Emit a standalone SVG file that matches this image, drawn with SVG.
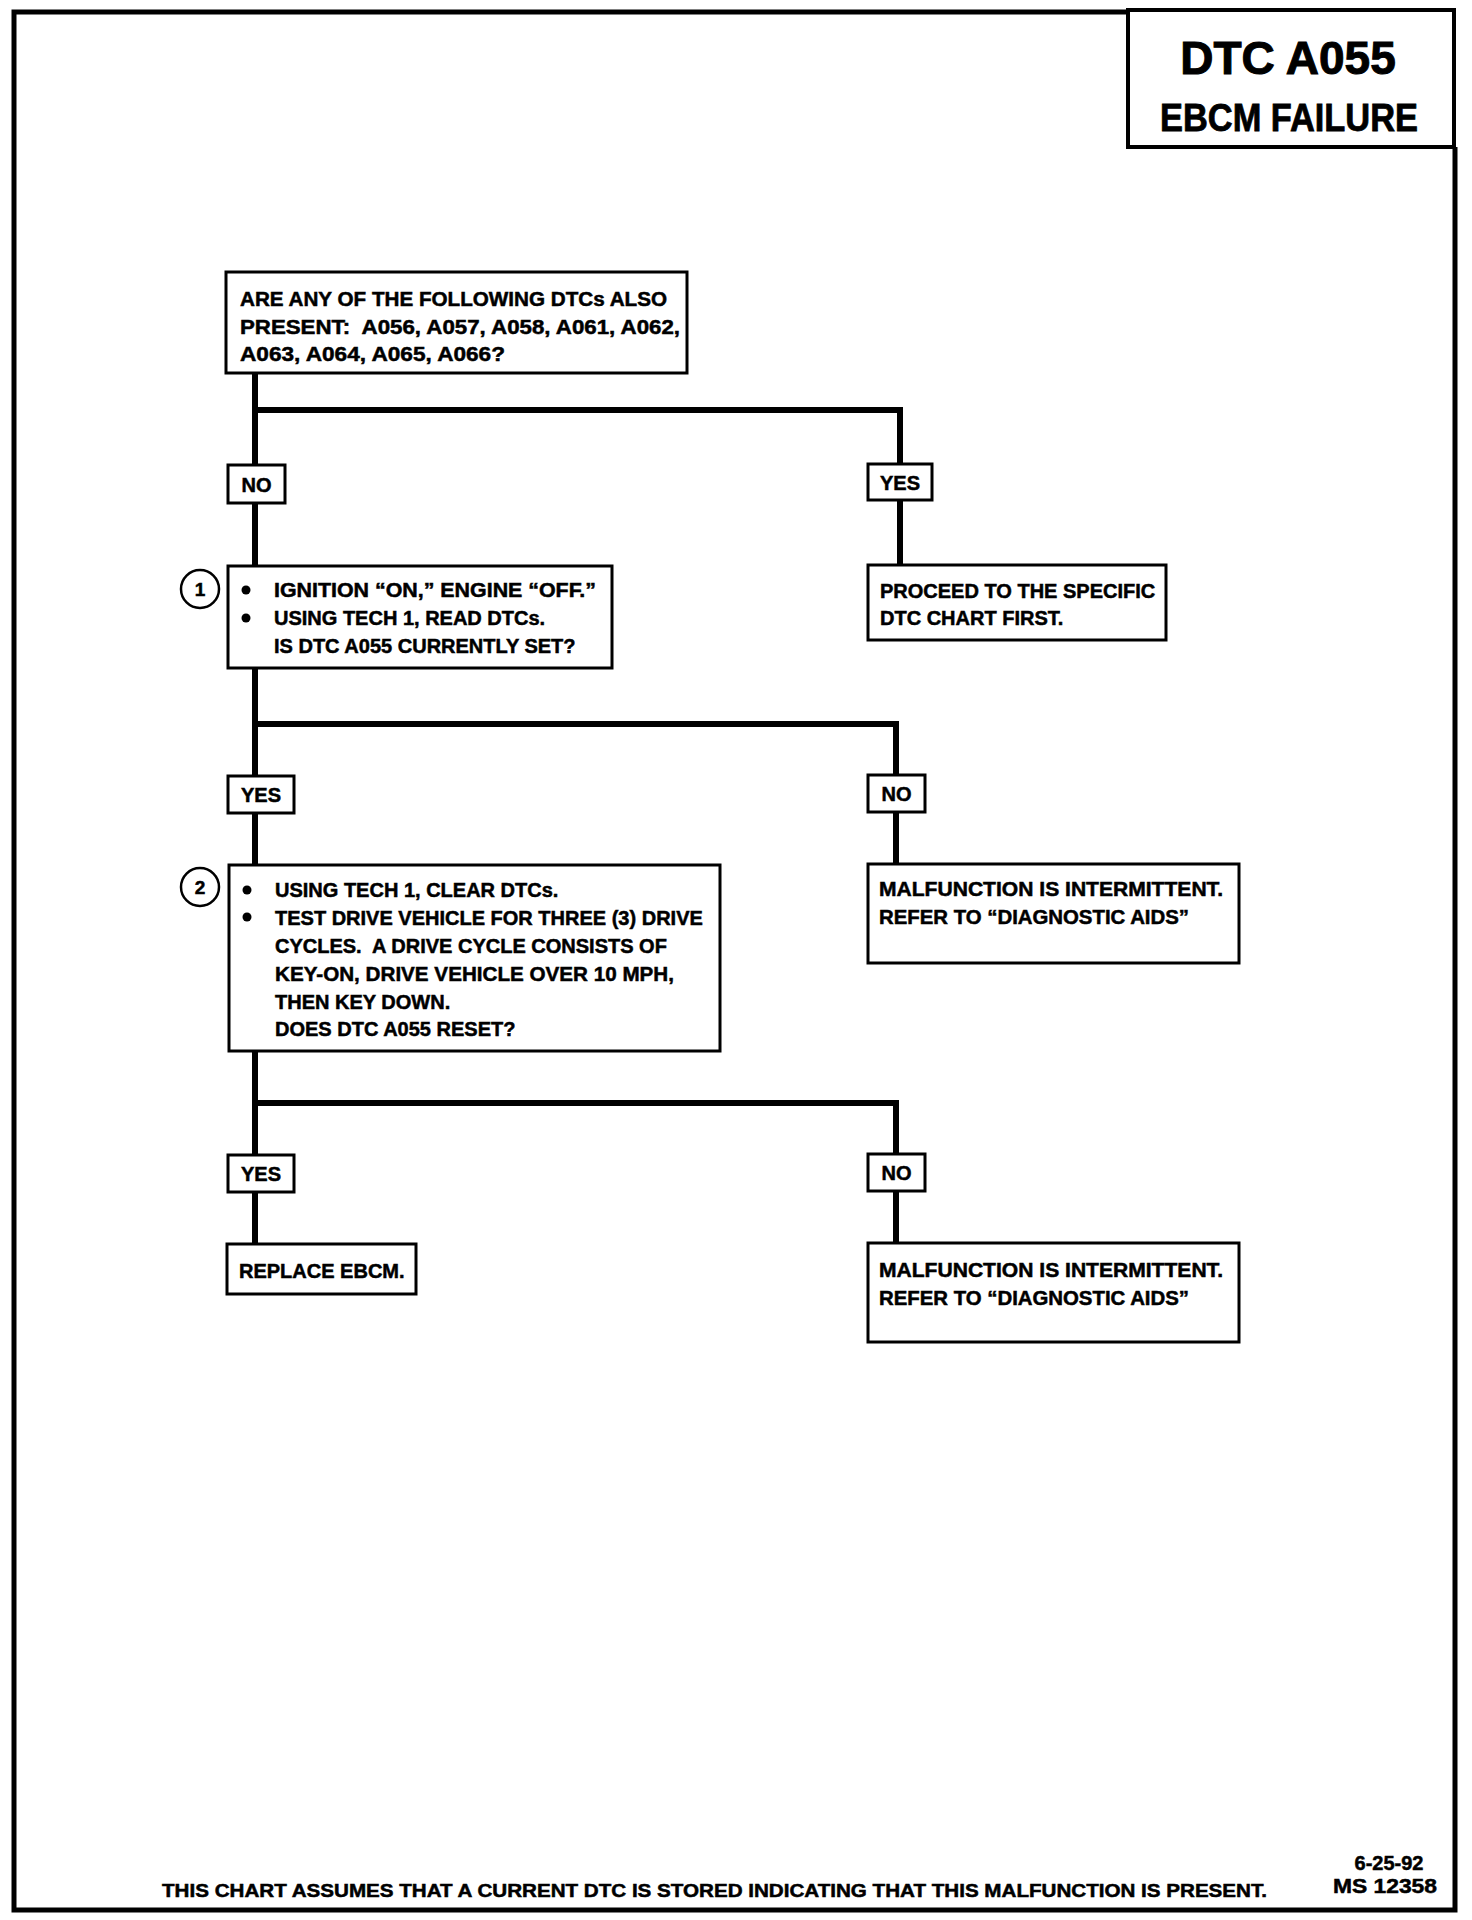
<svg xmlns="http://www.w3.org/2000/svg" width="1472" height="1920" viewBox="0 0 1472 1920">
<style>
.t{font-family:"Liberation Sans",Arial,sans-serif;font-weight:bold;font-size:20px;fill:#000;stroke:#000;stroke-width:0.5}
.lt{font-family:"Liberation Sans",Arial,sans-serif;font-weight:bold;font-size:20px;fill:#000;stroke:#000;stroke-width:0.5;text-anchor:middle}
.box{fill:#fff;stroke:#000;stroke-width:3}
.lbl{fill:#fff;stroke:#000;stroke-width:3}
.conn{fill:none;stroke:#000;stroke-width:6;stroke-linejoin:miter;stroke-linecap:butt}
.circ{fill:#fff;stroke:#000;stroke-width:2.5}
</style>
<rect width="1472" height="1920" fill="#fff"/>
<g id="page">
<path d="M1128 12 H14 V1910 H1455 V147" fill="none" stroke="#000" stroke-width="5"/>
</g>
<g id="title">
<rect x="1128" y="10" width="326" height="137" fill="#fff" stroke="#000" stroke-width="4"/>
<text x="1288" y="74" class="lt" style="font-size:46px;stroke-width:1">DTC A055</text>
<text x="1289" y="131" class="lt" style="font-size:38px;stroke-width:0.8" textLength="258" lengthAdjust="spacingAndGlyphs">EBCM FAILURE</text>
</g>
<g id="connectors">
<path class="conn" d="M255 373 V567"/>
<path class="conn" d="M255 410 H900 V565"/>
<path class="conn" d="M255 669 V865"/>
<path class="conn" d="M255 724 H896 V864"/>
<path class="conn" d="M255 1051 V1245"/>
<path class="conn" d="M255 1103 H896 V1243"/>
</g>
<g id="q1">
<rect class="box" x="226" y="272" width="461" height="101"/>
<text class="t" x="240" y="306" textLength="427" lengthAdjust="spacingAndGlyphs">ARE ANY OF THE FOLLOWING DTCs ALSO</text>
<text class="t" x="240" y="334" textLength="440" lengthAdjust="spacingAndGlyphs">PRESENT:&#160; A056, A057, A058, A061, A062,</text>
<text class="t" x="240" y="361" textLength="265" lengthAdjust="spacingAndGlyphs">A063, A064, A065, A066?</text>
</g>
<g id="lbl-no-1">
<rect class="lbl" x="228" y="465" width="57" height="38"/>
<text class="lt" x="256.5" y="491.5">NO</text>
</g>
<g id="lbl-yes-1">
<rect class="lbl" x="868" y="464" width="64" height="36"/>
<text class="lt" x="900" y="489.5">YES</text>
</g>
<g id="proceed">
<rect class="box" x="868" y="565" width="298" height="75"/>
<text class="t" x="880" y="598">PROCEED TO THE SPECIFIC</text>
<text class="t" x="880" y="625">DTC CHART FIRST.</text>
</g>
<g id="step1">
<circle class="circ" cx="200" cy="589" r="19"/>
<text class="lt" x="200" y="596" style="font-size:19px">1</text>
<rect class="box" x="228" y="566" width="384" height="102"/>
<circle cx="246" cy="590" r="4.5"/>
<circle cx="246" cy="618" r="4.5"/>
<text class="t" x="274" y="597" textLength="322" lengthAdjust="spacingAndGlyphs">IGNITION “ON,” ENGINE “OFF.”</text>
<text class="t" x="274" y="625">USING TECH 1, READ DTCs.</text>
<text class="t" x="274" y="653">IS DTC A055 CURRENTLY SET?</text>
</g>
<g id="lbl-yes-2">
<rect class="lbl" x="228" y="776" width="66" height="37"/>
<text class="lt" x="261" y="802">YES</text>
</g>
<g id="lbl-no-2">
<rect class="lbl" x="868" y="775" width="57" height="37"/>
<text class="lt" x="896.5" y="801">NO</text>
</g>
<g id="malf1">
<rect class="box" x="868" y="864" width="371" height="99"/>
<text class="t" x="879" y="896" textLength="344" lengthAdjust="spacingAndGlyphs">MALFUNCTION IS INTERMITTENT.</text>
<text class="t" x="879" y="924" textLength="310" lengthAdjust="spacingAndGlyphs">REFER TO “DIAGNOSTIC AIDS”</text>
</g>
<g id="step2">
<circle class="circ" cx="200" cy="887" r="19"/>
<text class="lt" x="200" y="894" style="font-size:19px">2</text>
<rect class="box" x="229" y="865" width="491" height="186"/>
<circle cx="247" cy="890" r="4.5"/>
<circle cx="247" cy="917" r="4.5"/>
<text class="t" x="275" y="897">USING TECH 1, CLEAR DTCs.</text>
<text class="t" x="275" y="925">TEST DRIVE VEHICLE FOR THREE (3) DRIVE</text>
<text class="t" x="275" y="953">CYCLES.&#160; A DRIVE CYCLE CONSISTS OF</text>
<text class="t" x="275" y="981" textLength="399" lengthAdjust="spacingAndGlyphs">KEY-ON, DRIVE VEHICLE OVER 10 MPH,</text>
<text class="t" x="275" y="1009">THEN KEY DOWN.</text>
<text class="t" x="275" y="1036">DOES DTC A055 RESET?</text>
</g>
<g id="lbl-yes-3">
<rect class="lbl" x="228" y="1155" width="66" height="37"/>
<text class="lt" x="261" y="1181">YES</text>
</g>
<g id="lbl-no-3">
<rect class="lbl" x="868" y="1154" width="57" height="37"/>
<text class="lt" x="896.5" y="1180">NO</text>
</g>
<g id="replace">
<rect class="box" x="227" y="1244" width="189" height="50"/>
<text class="t" x="239" y="1278">REPLACE EBCM.</text>
</g>
<g id="malf2">
<rect class="box" x="868" y="1243" width="371" height="99"/>
<text class="t" x="879" y="1277" textLength="344" lengthAdjust="spacingAndGlyphs">MALFUNCTION IS INTERMITTENT.</text>
<text class="t" x="879" y="1305" textLength="310" lengthAdjust="spacingAndGlyphs">REFER TO “DIAGNOSTIC AIDS”</text>
</g>
<g id="footer">
<text class="t" x="162" y="1897" style="font-size:18px" textLength="1105" lengthAdjust="spacingAndGlyphs">THIS CHART ASSUMES THAT A CURRENT DTC IS STORED INDICATING THAT THIS MALFUNCTION IS PRESENT.</text>
<text class="lt" x="1389" y="1870" style="font-size:20px">6-25-92</text>
<text class="lt" x="1385" y="1893" style="font-size:20px" textLength="104" lengthAdjust="spacingAndGlyphs">MS 12358</text>
</g>
</svg>
